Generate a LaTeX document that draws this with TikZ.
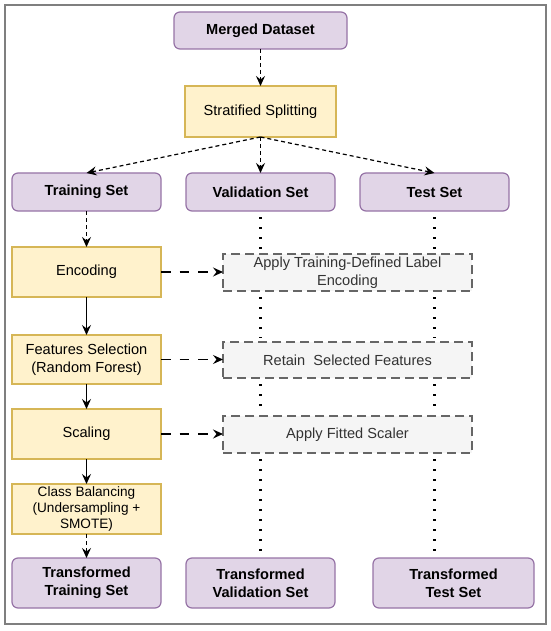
\documentclass[tikz,border=0pt]{standalone}
\usepackage{fontspec}
\setmainfont{Liberation Sans}
\usetikzlibrary{arrows.meta}
\definecolor{pfill}{HTML}{E1D5E7}
\definecolor{pdraw}{HTML}{9673A6}
\definecolor{yfill}{HTML}{FFF2CC}
\definecolor{ydraw}{HTML}{D6B656}
\definecolor{gfill}{HTML}{F5F5F5}
\definecolor{gdraw}{HTML}{666666}
\definecolor{gtext}{HTML}{333333}
\definecolor{frame}{HTML}{7F7F7F}
\tikzset{
  base/.style={inner sep=0pt, outer sep=0pt, align=center, font=\fontsize{14.6}{17.8}\selectfont},
  pbox/.style={base, draw=pdraw, fill=pfill, line width=1.2pt, rounded corners=6pt, font=\fontsize{14.6}{18.3}\selectfont\bfseries, minimum width=149pt},
  ybox/.style={base, draw=ydraw, fill=yfill, line width=1.2pt, minimum width=149pt, minimum height=50pt},
  gbox/.style={base, draw=gdraw, fill=gfill, line width=1.1pt, dash pattern=on 9pt off 5pt, text=gtext, minimum width=249pt, minimum height=37pt},
  tip/.style={-{Stealth[length=10pt,width=9pt,inset=3.5pt]}},
  sdash/.style={tip, line width=1.2pt, dash pattern=on 4pt off 3pt},
  solidarrow/.style={tip, line width=1.2pt},
  ldash/.style={tip, line width=1.2pt, dash pattern=on 9.5pt off 9pt},
  dotline/.style={line width=2.3pt, dash pattern=on 2.3pt off 7.7pt, shorten <=6pt, shorten >=4pt}
}
\begin{document}
\begin{tikzpicture}[x=1pt,y=-1pt]
\useasboundingbox (0,0) rectangle (550,631);
\draw[frame, line width=1.5pt] (5,5) rectangle (546,624);

\node[pbox, minimum width=173pt, minimum height=37pt] (merged) at (260.5,30.5) {Merged Dataset};
\node[ybox, minimum width=151pt, minimum height=51pt] (split) at (260.5,111.5) {Stratified Splitting};

\node[pbox, minimum height=38pt] (train) at (86.5,192) {Training Set};
\node[pbox, minimum height=38pt] (val) at (260.5,192) {Validation Set};
\node[pbox, minimum height=38pt] (test) at (434.5,192) {Test Set};

\node[ybox] (enc) at (86.5,272) {Encoding};
\node[gbox] (g1) at (347.5,272.5) {Apply Training-Defined Label\\Encoding};

\node[ybox, minimum height=49pt] (fs) at (86.5,359.5) {Features Selection\\(Random Forest)};
\node[gbox, minimum height=36pt] (g2) at (347.5,360) {Retain\ \ Selected Features};

\node[ybox] (scal) at (86.5,434) {Scaling};
\node[gbox] (g3) at (347.5,434.5) {Apply Fitted Scaler};

\node[ybox, font=\fontsize{13.6}{16.3}\selectfont] (cb) at (86.5,509) {Class Balancing\\(Undersampling +\\SMOTE)};

\node[pbox, minimum height=50pt] (ttrain) at (86.5,583) {Transformed\\Training Set};
\node[pbox, minimum height=50pt] (tval) at (260.5,583) {Transformed\\Validation Set};
\node[pbox, minimum height=50pt, minimum width=161pt] (ttest) at (453.5,583) {Transformed\\Test Set};

% top connectors
\draw[sdash] (merged.south) -- (split.north);
\draw[sdash] (split.south) -- (train.north);
\draw[sdash] (split.south) -- (val.north);
\draw[sdash] (split.south) -- (test.north);

% training pipeline
\draw[sdash] (train.south) -- (enc.north);
\draw[solidarrow] (enc.south) -- (fs.north);
\draw[solidarrow] (fs.south) -- (scal.north);
\draw[solidarrow] (scal.south) -- (cb.north);
\draw[sdash] (cb.south) -- (ttrain.north);

% to gray boxes
\draw[ldash] (enc.east) -- (g1.west |- enc.east);
\draw[ldash] (fs.east) -- (g2.west |- fs.east);
\draw[ldash] (scal.east) -- (g3.west |- scal.east);

% dotted columns
\draw[dotline] (val.south) -- (val.south |- g1.north);
\draw[dotline] (val.south |- g1.south) -- (val.south |- g2.north);
\draw[dotline] (val.south |- g2.south) -- (val.south |- g3.north);
\draw[dotline] (val.south |- g3.south) -- (tval.north);
\draw[dotline] (test.south) -- (test.south |- g1.north);
\draw[dotline] (test.south |- g1.south) -- (test.south |- g2.north);
\draw[dotline] (test.south |- g2.south) -- (test.south |- g3.north);
\draw[dotline] (test.south |- g3.south) -- (test.south |- ttest.north);
\end{tikzpicture}
\end{document}
